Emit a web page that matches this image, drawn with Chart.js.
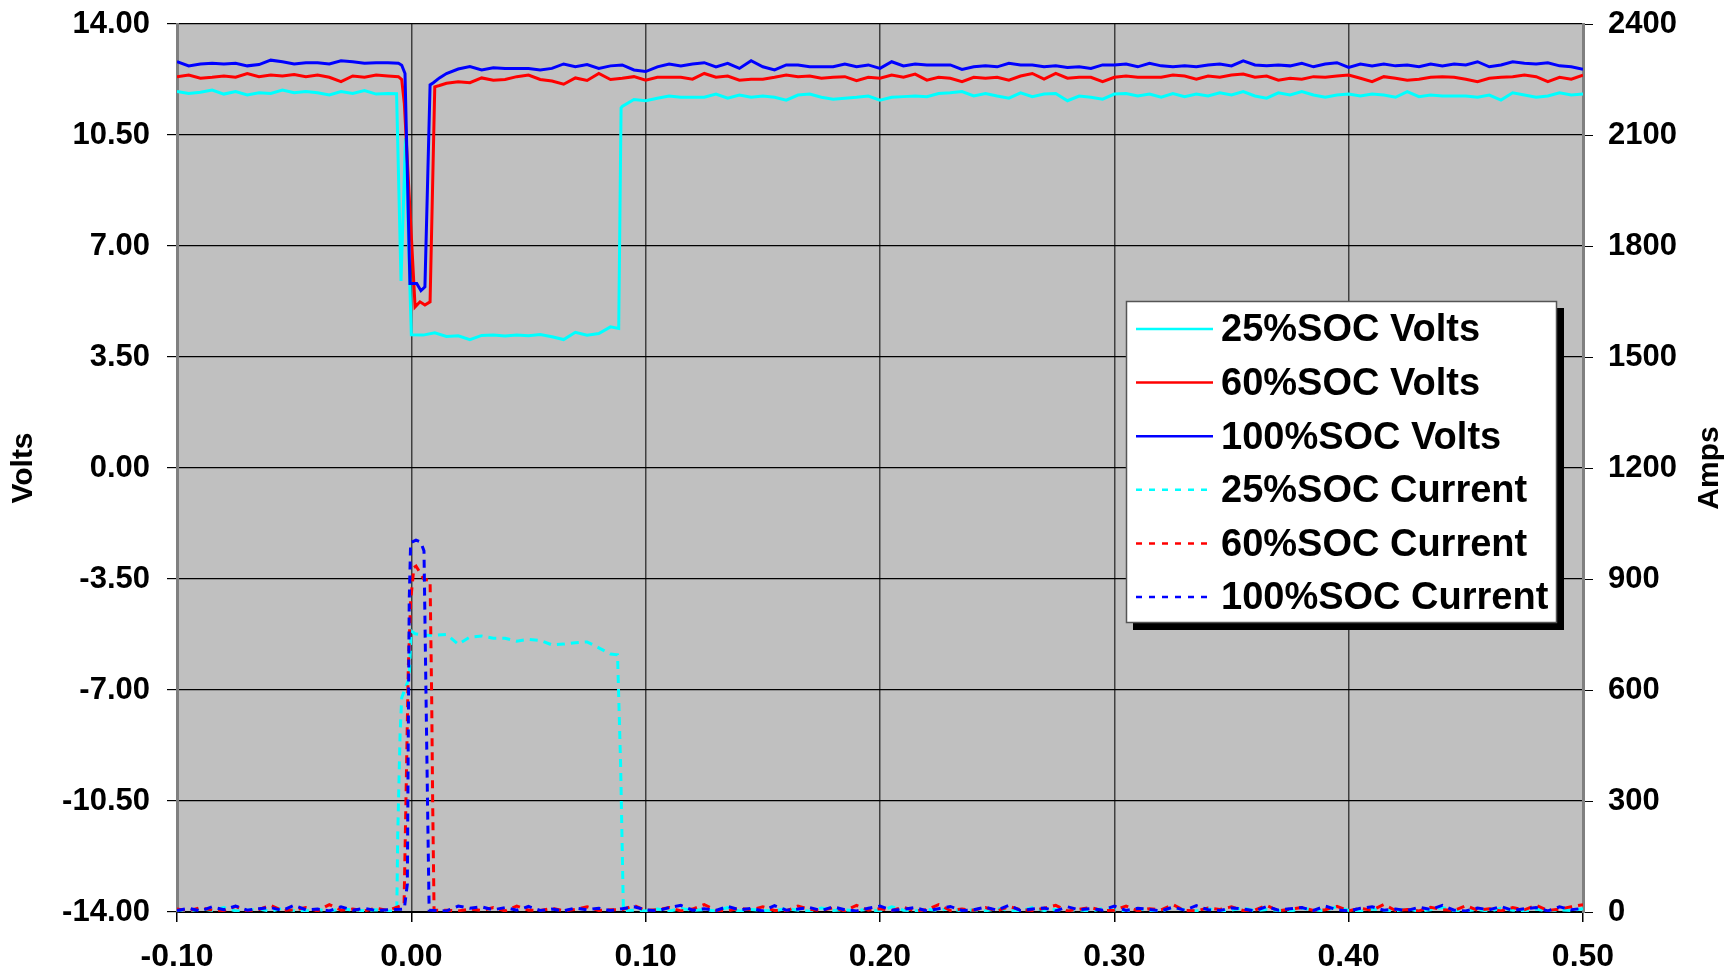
<!DOCTYPE html>
<html>
<head>
<meta charset="utf-8">
<title>SOC Volts and Current</title>
<script src="https://cdn.jsdelivr.net/npm/chart.js@4.4.1/dist/chart.umd.min.js"></script>
<style>
  html, body { margin: 0; padding: 0; background: #fff; }
  #wrap { width: 1732px; height: 980px; position: relative; }
</style>
</head>
<body>
<div id="wrap"><canvas id="socChart"></canvas></div>
<script>
// Time (s) of the slowly varying parts of every trace
const timeGrid = [
  -0.100, -0.095, -0.090, -0.085, -0.080, -0.075, -0.070, -0.065, -0.060, -0.055,
  -0.050, -0.045, -0.040, -0.035, -0.030, -0.025, -0.020, -0.015, -0.010,
  0.015, 0.020, 0.025, 0.030, 0.035, 0.040, 0.045, 0.050, 0.055, 0.060,
  0.065, 0.070, 0.075, 0.080, 0.085,
  0.095, 0.100, 0.105, 0.110, 0.115, 0.120, 0.125, 0.130, 0.135, 0.140,
  0.145, 0.150, 0.155, 0.160, 0.165, 0.170, 0.175, 0.180, 0.185, 0.190,
  0.195, 0.200, 0.205, 0.210, 0.215, 0.220, 0.225, 0.230, 0.235, 0.240,
  0.245, 0.250, 0.255, 0.260, 0.265, 0.270, 0.275, 0.280, 0.285, 0.290,
  0.295, 0.300, 0.305, 0.310, 0.315, 0.320, 0.325, 0.330, 0.335, 0.340,
  0.345, 0.350, 0.355, 0.360, 0.365, 0.370, 0.375, 0.380, 0.385, 0.390,
  0.395, 0.400, 0.405, 0.410, 0.415, 0.420, 0.425, 0.430, 0.435, 0.440,
  0.445, 0.450, 0.455, 0.460, 0.465, 0.470, 0.475, 0.480, 0.485, 0.490,
  0.495, 0.500,
];

const seriesLabels = [
  "25%SOC Volts", "60%SOC Volts", "100%SOC Volts",
  "25%SOC Current", "60%SOC Current", "100%SOC Current",
];

const timeTicks = [-0.1, 0, 0.1, 0.2, 0.3, 0.4, 0.5];
const voltTicks = [-14, -10.5, -7, -3.5, 0, 3.5, 7, 10.5, 14];
const ampTicks = [0, 300, 600, 900, 1200, 1500, 1800, 2100, 2400];

// 25% SOC volts on timeGrid
const volts25 = [
  11.87, 11.81, 11.85, 11.92, 11.79, 11.87, 11.76, 11.83, 11.81, 11.92,
  11.83, 11.87, 11.83, 11.76, 11.87, 11.81, 11.90, 11.79, 11.81,
  4.15, 4.17, 4.05, 4.18, 4.19, 4.16, 4.19, 4.17, 4.21, 4.14,
  4.05, 4.28, 4.19, 4.24, 4.45,
  11.62, 11.58, 11.66, 11.73, 11.69, 11.69, 11.69, 11.79, 11.66, 11.76,
  11.69, 11.73, 11.69, 11.60, 11.76, 11.79, 11.69, 11.63, 11.66, 11.69,
  11.73, 11.60, 11.69, 11.71, 11.73, 11.71, 11.81, 11.83, 11.87, 11.73,
  11.81, 11.73, 11.66, 11.83, 11.71, 11.79, 11.81, 11.58, 11.73, 11.69,
  11.63, 11.79, 11.81, 11.73, 11.79, 11.69, 11.81, 11.71, 11.79, 11.73,
  11.83, 11.76, 11.87, 11.73, 11.66, 11.83, 11.76, 11.87, 11.76, 11.69,
  11.76, 11.79, 11.73, 11.79, 11.76, 11.69, 11.87, 11.71, 11.76, 11.73,
  11.73, 11.73, 11.69, 11.76, 11.60, 11.83, 11.76, 11.69, 11.73, 11.83,
  11.76, 11.79,
];
// 25% SOC volts around the steps
const volts25EdgeT = [-0.0063, -0.0044, -0.0025, 0.0000, 0.0050, 0.0100, 0.0885, 0.0895, 0.0900];
const volts25Edge = [11.80, 5.90, 10.40, 4.20, 4.19, 4.26, 4.40, 11.35, 11.40];

const volts60 = [
  12.34, 12.39, 12.29, 12.32, 12.36, 12.32, 12.44, 12.34, 12.39, 12.36,
  12.41, 12.34, 12.39, 12.32, 12.18, 12.36, 12.32, 12.39, 12.36,
  12.13, 12.18, 12.15, 12.30, 12.23, 12.25, 12.34, 12.39, 12.25, 12.20,
  12.10, 12.30, 12.22, 12.44, 12.25,
  12.34, 12.23, 12.32, 12.32, 12.32, 12.26, 12.44, 12.32, 12.36, 12.23,
  12.26, 12.26, 12.32, 12.39, 12.34, 12.36, 12.29, 12.32, 12.34, 12.21,
  12.32, 12.29, 12.39, 12.32, 12.42, 12.23, 12.32, 12.29, 12.18, 12.32,
  12.29, 12.32, 12.23, 12.36, 12.44, 12.26, 12.44, 12.29, 12.32, 12.32,
  12.18, 12.32, 12.36, 12.32, 12.32, 12.32, 12.39, 12.36, 12.26, 12.36,
  12.32, 12.39, 12.42, 12.32, 12.36, 12.23, 12.29, 12.26, 12.34, 12.32,
  12.36, 12.39, 12.29, 12.18, 12.34, 12.29, 12.23, 12.26, 12.32, 12.34,
  12.32, 12.26, 12.18, 12.29, 12.32, 12.34, 12.39, 12.34, 12.18, 12.32,
  12.26, 12.39,
];
const volts60EdgeT = [-0.0055, -0.0041, -0.0030, 0.0016, 0.0037, 0.0058, 0.0080, 0.0100, 0.0120, 0.0900];
const volts60Edge = [12.34, 12.25, 11.50, 5.08, 5.24, 5.14, 5.24, 12.02, 12.06, 12.29];

const volts100 = [
  12.81, 12.68, 12.74, 12.76, 12.74, 12.76, 12.68, 12.72, 12.86, 12.81,
  12.74, 12.78, 12.78, 12.74, 12.84, 12.81, 12.76, 12.78, 12.78,
  12.44, 12.58, 12.66, 12.55, 12.62, 12.60, 12.60, 12.60, 12.55, 12.60,
  12.74, 12.65, 12.72, 12.60, 12.68,
  12.55, 12.50, 12.65, 12.74, 12.68, 12.74, 12.78, 12.65, 12.76, 12.60,
  12.84, 12.65, 12.55, 12.71, 12.71, 12.65, 12.65, 12.65, 12.74, 12.65,
  12.71, 12.60, 12.81, 12.68, 12.74, 12.71, 12.71, 12.71, 12.57, 12.65,
  12.68, 12.65, 12.76, 12.71, 12.71, 12.65, 12.68, 12.63, 12.65, 12.60,
  12.71, 12.71, 12.74, 12.65, 12.76, 12.68, 12.65, 12.68, 12.65, 12.71,
  12.74, 12.68, 12.84, 12.71, 12.68, 12.71, 12.68, 12.76, 12.65, 12.74,
  12.78, 12.63, 12.74, 12.68, 12.74, 12.68, 12.71, 12.65, 12.74, 12.68,
  12.74, 12.71, 12.81, 12.65, 12.71, 12.81, 12.76, 12.74, 12.78, 12.68,
  12.65, 12.57,
];
const volts100EdgeT = [-0.0055, -0.0041, -0.0027, -0.0006, 0.0023, 0.0041, 0.0058, 0.0080, 0.0094, 0.0120, 0.0900];
const volts100Edge = [12.76, 12.70, 12.44, 5.82, 5.82, 5.59, 5.71, 12.08, 12.15, 12.30, 12.71];

// Currents (A) on timeGrid
const amps25 = [
  6, 2, 9, 4, 12, 3, 5, 8, 2, 10,
  4, 3, 7, 2, 9, 5, 3, 6, 2,
  750, 724, 743, 746, 740, 740, 732, 737, 734, 722,
  724, 728, 730, 714, 697,
  5, 3, 8, 2, 10, 4, 6, 3, 12, 2,
  7, 4, 3, 9, 5, 2, 11, 4, 6, 3,
  8, 2, 14, 5, 3, 7, 4, 10, 2, 6,
  3, 9, 5, 2, 12, 4, 7, 3, 6, 2,
  10, 5, 3, 8, 4, 2, 13, 6, 3, 9,
  2, 5, 11, 3, 7, 4, 2, 10, 6, 3,
  15, 4, 2, 8, 5, 3, 9, 2, 6, 12,
  4, 3, 7, 2, 10, 5, 3, 8, 2, 6,
  4, 9,
];
const amps25EdgeT = [-0.0062, -0.0058, -0.0048, -0.0041, -0.0009, -0.0001, 0.0016, 0.0050, 0.0100, 0.0880, 0.0893, 0.0905];
const amps25Edge = [4, 210, 481, 579, 633, 760, 752, 748, 748, 695, 400, 4];

const amps60 = [
  8, 3, 12, 5, 4, 15, 3, 7, 18, 4,
  6, 12, 3, 20, 5, 8, 3, 10, 4,
  5, 3, 8, 4, 12, 3, 16, 5, 4, 10,
  3, 7, 14, 4, 6,
  18, 4, 6, 12, 3, 8, 20, 5, 3, 10,
  6, 14, 4, 3, 16, 7, 4, 11, 3, 18,
  5, 9, 4, 13, 3, 6, 20, 4, 8, 5,
  12, 3, 15, 6, 4, 10, 18, 3, 7, 12,
  4, 5, 16, 3, 9, 6, 20, 4, 3, 11,
  7, 14, 4, 5, 18, 3, 8, 12, 4, 6,
  15, 3, 10, 5, 20, 4, 7, 3, 13, 6,
  4, 17, 5, 9, 3, 12, 6, 18, 4, 8,
  14, 20,
];
const amps60EdgeT = [-0.0031, -0.0023, -0.0013, -0.0003, 0.0011, 0.0020, 0.0037, 0.0054, 0.0080, 0.0087, 0.0091, 0.0097, 0.0900];
const amps60Edge = [20, 300, 660, 841, 931, 935, 917, 899, 896, 570, 300, 5, 6];

const amps100 = [
  4, 10, 3, 14, 6, 16, 5, 9, 12, 4,
  18, 6, 8, 3, 14, 5, 10, 4, 6,
  3, 16, 10, 14, 6, 12, 5, 15, 4, 8,
  3, 11, 6, 10, 4,
  14, 6, 3, 12, 18, 5, 9, 4, 15, 6,
  10, 3, 17, 5, 8, 12, 4, 14, 6, 3,
  10, 16, 5, 7, 12, 3, 9, 15, 4, 6,
  13, 5, 18, 4, 8, 11, 3, 14, 6, 9,
  5, 16, 4, 10, 7, 3, 13, 5, 17, 6,
  4, 11, 8, 3, 15, 5, 9, 12, 4, 16,
  6, 3, 10, 14, 5, 8, 4, 13, 7, 18,
  5, 3, 11, 6, 15, 4, 9, 12, 3, 14,
  6, 10,
];
const amps100EdgeT = [-0.0030, -0.0017, -0.0013, -0.0009, -0.0003, 0.0020, 0.0040, 0.0054, 0.0061, 0.0069, 0.0076, 0.0100, 0.0900];
const amps100Edge = [8, 76, 481, 841, 998, 1005, 1000, 976, 660, 300, 5, 4, 9];

const CYAN = "#00ffff";
const RED = "#ff0000";
const BLUE = "#0000ff";
const FONT_FAMILY = "'Liberation Sans', Arial, Helvetica, sans-serif";

// merge the grid part and the step part of a trace into one time-ordered list
function buildSeries(values, edgeT, edgeValues) {
  const points = timeGrid.map((t, i) => ({ x: t, y: values[i] }));
  edgeT.forEach((t, i) => points.push({ x: t, y: edgeValues[i] }));
  return points.sort((a, b) => a.x - b.x);
}

function traceDataset(index, color, points, isCurrent, order) {
  return {
    label: seriesLabels[index],
    data: points,
    borderColor: color,
    backgroundColor: color,
    borderWidth: 3,
    borderDash: isCurrent ? [8, 6] : [],
    pointRadius: 0,
    tension: 0,
    fill: false,
    yAxisID: isCurrent ? "yAmps" : "yVolts",
    order: order,
  };
}

// Grey plot background
const plotBackground = {
  id: "plotBackground",
  beforeDraw(chart) {
    const { ctx, chartArea: a } = chart;
    ctx.save();
    ctx.fillStyle = "#c0c0c0";
    ctx.fillRect(a.left, a.top, a.right - a.left, a.bottom - a.top);
    ctx.restore();
  },
};

// Boxed legend with drop shadow, and the right axis title
const boxLegend = {
  id: "boxLegend",
  afterDraw(chart) {
    const { ctx, chartArea: a } = chart;
    const w = a.right - a.left;
    const h = a.bottom - a.top;
    const bx = Math.round(a.left + w * 0.675);
    const by = Math.round(a.top + h * 0.312);
    const bw = 431;
    const bh = 322;

    ctx.save();
    ctx.fillStyle = "#000";
    ctx.fillRect(bx + 7, by + 7, bw, bh);
    ctx.fillStyle = "#fff";
    ctx.fillRect(bx, by, bw, bh);
    ctx.strokeStyle = "#555";
    ctx.lineWidth = 1.5;
    ctx.strokeRect(bx + 0.5, by + 0.5, bw - 1, bh - 1);

    ctx.font = "bold 38px " + FONT_FAMILY;
    ctx.textAlign = "left";
    ctx.textBaseline = "middle";
    chart.data.datasets.forEach((ds, i) => {
      const rowY = by + 28 + i * 53.6;
      ctx.beginPath();
      ctx.strokeStyle = ds.borderColor;
      ctx.lineWidth = 2.5;
      ctx.setLineDash(ds.borderDash.length ? [6, 7] : []);
      ctx.moveTo(bx + 10, rowY);
      ctx.lineTo(bx + 87, rowY);
      ctx.stroke();
      ctx.setLineDash([]);
      ctx.fillStyle = "#000";
      ctx.fillText(ds.label, bx + 95, rowY + 2);
    });

    // "Amps" reads bottom to top like "Volts"
    ctx.translate(chart.width - 22, (a.top + a.bottom) / 2);
    ctx.rotate(-Math.PI / 2);
    ctx.textAlign = "center";
    ctx.font = "bold 30px " + FONT_FAMILY;
    ctx.fillText("Amps", 0, 0);
    ctx.restore();
  },
};

document.addEventListener("DOMContentLoaded", function () {
  const ctx = document.getElementById("socChart");
  const tickFont = { family: FONT_FAMILY, size: 31, weight: "bold" };

  new Chart(ctx, {
    type: "line",
    data: {
      datasets: [
        traceDataset(0, CYAN, buildSeries(volts25, volts25EdgeT, volts25Edge), false, 6),
        traceDataset(1, RED, buildSeries(volts60, volts60EdgeT, volts60Edge), false, 5),
        traceDataset(2, BLUE, buildSeries(volts100, volts100EdgeT, volts100Edge), false, 4),
        traceDataset(3, CYAN, buildSeries(amps25, amps25EdgeT, amps25Edge), true, 3),
        traceDataset(4, RED, buildSeries(amps60, amps60EdgeT, amps60Edge), true, 2),
        traceDataset(5, BLUE, buildSeries(amps100, amps100EdgeT, amps100Edge), true, 1),
      ],
    },
    options: {
      responsive: true,
      maintainAspectRatio: false,
      animation: false,
      events: [],
      layout: { padding: { top: 24, right: 0, bottom: 0, left: 0 } },
      plugins: {
        legend: { display: false },
        tooltip: { enabled: false },
      },
      scales: {
        x: {
          type: "linear",
          position: "bottom",
          min: -0.1,
          max: 0.5,
          afterBuildTicks: (scale) => {
            scale.ticks = timeTicks.map((v) => ({ value: v }));
          },
          afterFit: (scale) => {
            scale.height = 68;
          },
          grid: { color: "#404040", lineWidth: 1.5, tickLength: 10, tickColor: "#000" },
          border: { color: "#000", width: 2 },
          ticks: {
            color: "#000",
            font: { family: FONT_FAMILY, size: 32, weight: "bold" },
            padding: 16,
            maxRotation: 0,
            autoSkip: false,
            callback: (v) => (Math.abs(v) < 1e-9 ? 0 : v).toFixed(2),
          },
        },
        yVolts: {
          type: "linear",
          position: "left",
          min: -14,
          max: 14,
          afterBuildTicks: (scale) => {
            scale.ticks = voltTicks.map((v) => ({ value: v }));
          },
          afterFit: (scale) => {
            scale.width = 177;
            scale.paddingTop = 0;
            scale.paddingBottom = 0;
          },
          grid: { color: "#000", lineWidth: 1.2, tickLength: 10, tickColor: "#000" },
          border: { color: "#808080", width: 3 },
          ticks: {
            color: "#000",
            font: tickFont,
            padding: 17,
            autoSkip: false,
            callback: (v) => Number(v).toFixed(2),
          },
          title: {
            display: true,
            text: "Volts",
            color: "#000",
            font: { family: FONT_FAMILY, size: 30, weight: "bold" },
            padding: { top: 6, bottom: 0 },
          },
        },
        yAmps: {
          type: "linear",
          position: "right",
          min: 0,
          max: 2400,
          afterBuildTicks: (scale) => {
            scale.ticks = ampTicks.map((v) => ({ value: v }));
          },
          afterFit: (scale) => {
            scale.width = 149;
            scale.paddingTop = 0;
            scale.paddingBottom = 0;
          },
          grid: { drawOnChartArea: false, tickLength: 10, tickColor: "#000" },
          border: { color: "#808080", width: 3 },
          ticks: {
            color: "#000",
            font: tickFont,
            padding: 15,
            autoSkip: false,
            callback: (v) => String(v),
          },
        },
      },
    },
    plugins: [plotBackground, boxLegend],
  });
});
</script>
</body>
</html>
